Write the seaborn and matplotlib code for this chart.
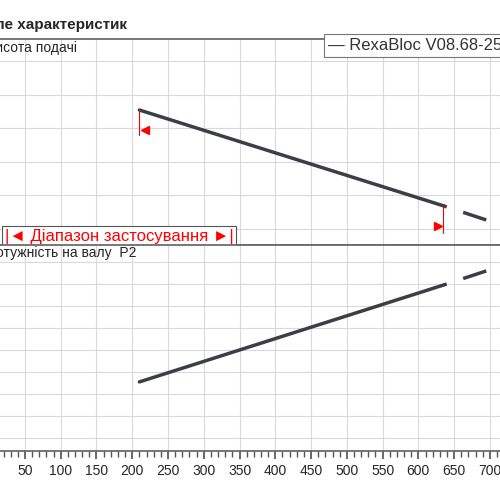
import numpy as np
import pandas as pd
import matplotlib
matplotlib.use("Agg")
import matplotlib.pyplot as plt
from matplotlib.ticker import MultipleLocator
import seaborn as sns

sns.set_theme(style="whitegrid")
plt.rcParams['font.family'] = ['Liberation Sans', 'DejaVu Sans']

# flow (x) and curves in grid units
q_solid = [210, 635]
q_dash = [635, 720]
head_solid = [4.55, 1.69]
head_dash = [1.69, 1.09]
power_solid = [3.55, 7.95]
power_dash = [7.95, 8.86]
x_ticks = list(range(50, 701, 50))

line_col = "#3a3f47"
fig = plt.figure(figsize=(5, 5), dpi=100)
ax1 = fig.add_axes([-0.0216, 0.51, 1.03, 0.412])
ax2 = fig.add_axes([-0.0216, 0.098, 1.03, 0.412], sharex=ax1)

for ax, ys, yd in [(ax1, head_solid, head_dash), (ax2, power_solid, power_dash)]:
    sns.lineplot(x=q_solid, y=ys, ax=ax, color=line_col, lw=2.5)
    sns.lineplot(x=q_dash, y=yd, ax=ax, color=line_col, lw=2.5)
    ax.lines[-1].set_linestyle((6, (7, 5)))
    ax.grid(True, color="#d9d9d9", lw=0.8)
    for s in ax.spines.values():
        s.set_color("#666666")
    ax.set_yticklabels([])
    ax.tick_params(axis="y", length=0)

ax1.set_xlim(0, 720)
ax1.set_ylim(0.52, 6.67)
ax1.set_yticks(range(1, 7))
ax2.set_ylim(0.41, 9.77)
ax2.set_yticks(range(1, 10))
ax2.set_xticks(x_ticks)
ax2.xaxis.set_minor_locator(MultipleLocator(10))
ax2.tick_params(axis="x", which="both", direction="out", bottom=True, color="#555555", labelsize=10)
ax2.tick_params(axis="x", which="major", length=6)
ax2.tick_params(axis="x", which="minor", length=4)
plt.setp(ax1.get_xticklabels(), visible=False)
ax1.tick_params(axis="x", length=0)

# operating range markers
red = "#ff0000"
ax1.plot([210, 210], [4.55, 3.8], color=red, lw=0.8)
ax1.plot([218], [3.95], marker="<", color=red, ms=6, ls="none")
ax1.plot([635, 635], [1.69, 0.88], color=red, lw=0.8)
ax1.plot([628], [1.08], marker=">", color=red, ms=6, ls="none")
ax1.text(722, 1.3, "К", fontsize=9, color=line_col, ha="left", va="center")

ax1.text(-4, 6.62, "Висота подачі", fontsize=10, va="top")
ax2.text(-4, 9.72, "Потужність на валу  P2", fontsize=10, va="top")
fig.text(-0.01, 0.95, "ле характеристик", fontsize=11, fontweight="bold", va="center")

ax1.text(474, 6.47, "— RexaBloc V08.68-255D", fontsize=12, color="#333333", va="center",
         bbox=dict(boxstyle="square,pad=0.25", fc="white", ec="#777777", lw=0.8))
ax1.text(22, 0.78, "|◄ Діапазон застосування ►|", fontsize=12, color=red, va="center",
         bbox=dict(boxstyle="square,pad=0.15", fc="white", ec="#555555", lw=0.8))

fig.savefig("out.png", dpi=100)
